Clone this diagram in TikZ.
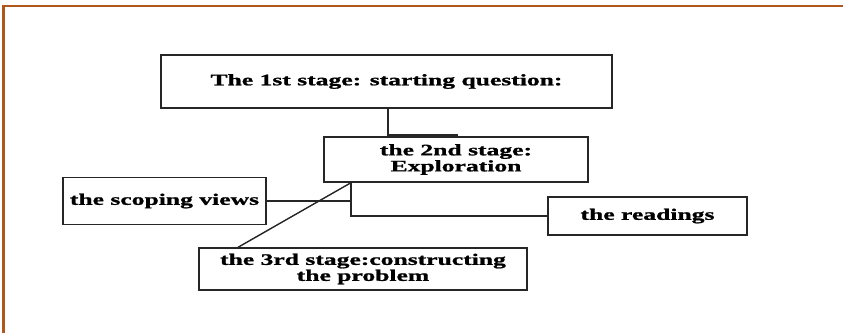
\documentclass[tikz,border=0pt]{standalone}
\usepackage{fontspec}
\setmainfont{Liberation Serif}[FakeStretch=1.6,BoldFeatures={FakeBold=1.2}]
\begin{document}
\begin{tikzpicture}[x=1pt,y=-1pt,
  box/.style={draw=black!85,line width=1.4pt,rectangle,inner sep=0pt,align=center,
    font=\fontsize{16}{16}\selectfont\bfseries},
  link/.style={draw=black!85,line width=1.4pt}]
\useasboundingbox (0,0) rectangle (843,333);
\fill[white] (0,0) rectangle (843,333);
% frame
\draw[color={rgb,255:red,176;green,88;blue,28},line width=2.2pt] (3.5,333) -- (3.5,6) -- (843,6);
% nodes
\node[box,minimum width=451pt,minimum height=53pt] (b1) at (386.5,81.5) {The 1st stage: starting question:};
\node[box,minimum width=264pt,minimum height=45pt] (b2) at (456,159.5) {the 2nd stage:\\Exploration};
\node[box,minimum width=203pt,minimum height=47pt] (scope) at (164.5,201) {the scoping views};
\node[box,minimum width=199pt,minimum height=38pt] (reads) at (647.5,216) {the readings};
\node[box,minimum width=328pt,minimum height=42pt] (b3) at (363,269) {the 3rd stage:constructing\\the problem};
% junctions
\coordinate (k1) at (388,135);
\coordinate (k2) at (457,135);
\coordinate (k3) at (351,216);
\coordinate (k4) at (238,248);
% connectors
\draw[link] (b1.south -| k1) -- (k1) -- (k2) -- (k2 |- b2.south);
\draw[link] (b2.south -| k3) -- (k3) -- (reads.west |- k3);
\draw[link] (scope.east) -- (scope.east -| k3);
\draw[link] (b3.north -| k4) -- (b2.south -| k3);
% redraw box2 over the stub
\node[box,fill=white,minimum width=264pt,minimum height=45pt] at (456,159.5) {the 2nd stage:\\Exploration};
\end{tikzpicture}
\end{document}
